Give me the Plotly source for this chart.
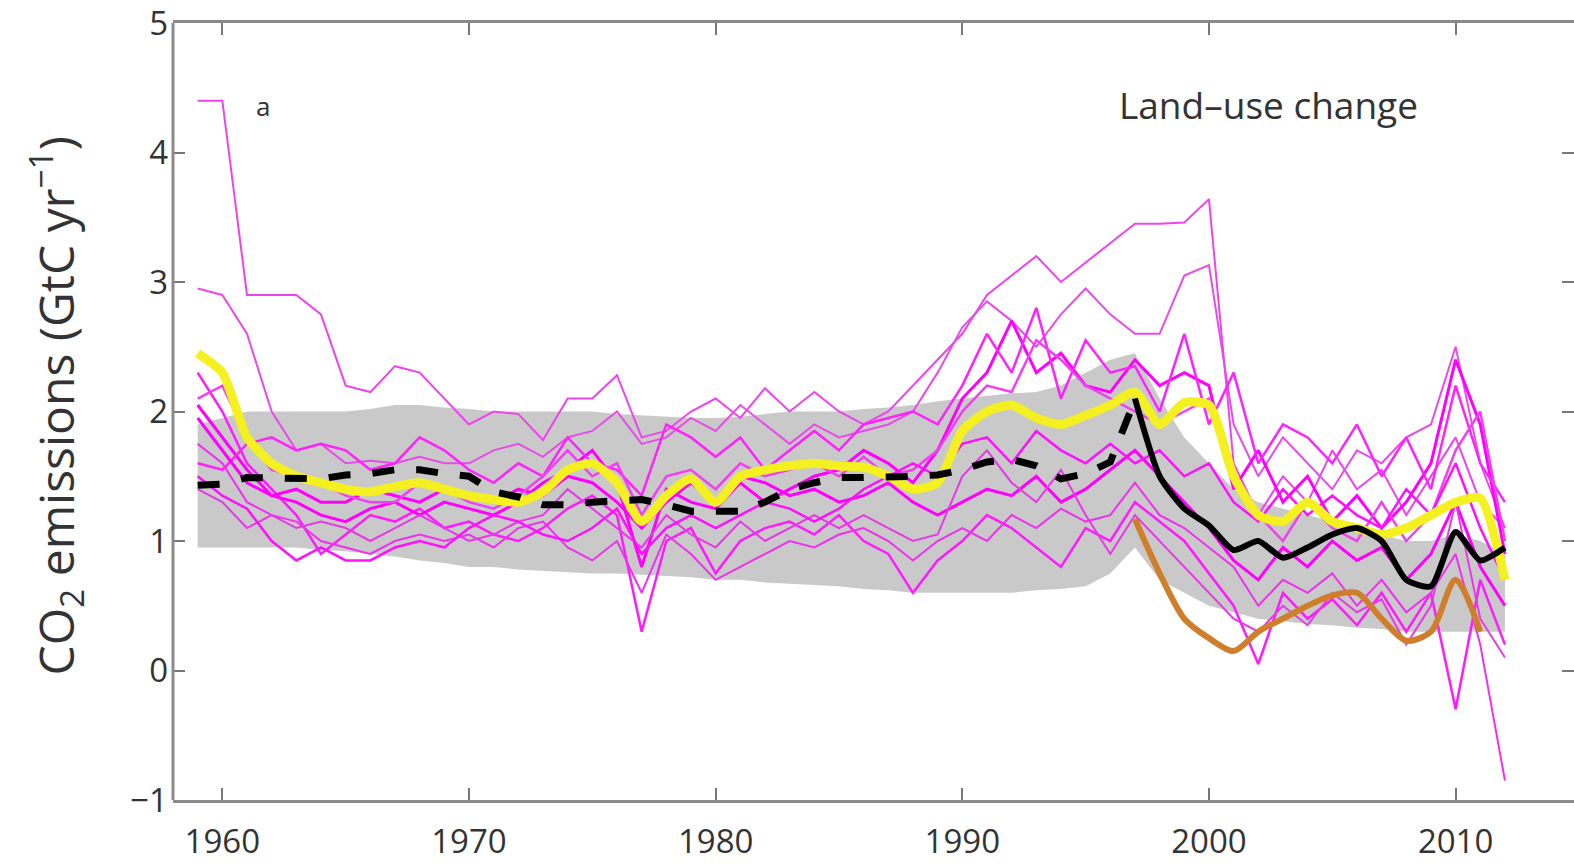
import plotly.graph_objects as go

# Annual land-use change CO2 emissions, 1959-2012 (GtC per year)
years = list(range(1959, 2013))

# Individual model estimates (magenta ensemble)
model_a = [4.4, 4.4, 2.9, 2.9, 2.9, 2.75, 2.2, 2.15, 2.35, 2.3, 2.1, 1.9, 2.0, 1.98, 1.78, 2.1, 2.1, 2.28,
           1.8, 1.85, 2.0, 2.1, 1.95, 2.18, 2.0, 2.15, 2.0, 1.9, 2.0, 2.2, 2.4, 2.6, 2.9, 3.05, 3.2, 3.0,
           3.15, 3.3, 3.45, 3.45, 3.46, 3.64, 1.6, 1.2, 1.5, 1.3, 1.7, 1.4, 1.55, 1.2, 1.5, 1.8, 1.3, 1.1]
model_b = [2.95, 2.9, 2.6, 2.0, 1.7, 1.75, 1.6, 1.62, 1.6, 1.65, 1.6, 1.6, 1.7, 1.75, 1.65, 1.8, 1.85, 2.0,
           1.75, 1.8, 1.95, 1.85, 2.05, 1.9, 1.75, 1.9, 1.8, 1.85, 1.9, 2.0, 2.3, 2.65, 2.85, 2.7, 2.5, 2.75,
           2.95, 2.75, 2.6, 2.6, 3.05, 3.13, 1.9, 1.5, 1.8, 1.6, 1.4, 1.7, 1.6, 1.8, 1.9, 2.5, 1.6, 1.1]
model_c = [2.3, 2.0, 1.6, 1.4, 1.2, 0.9, 1.05, 1.2, 1.15, 1.25, 1.1, 1.15, 1.05, 1.0, 1.1, 1.25, 1.35, 1.2,
           0.3, 1.0, 1.1, 0.75, 1.0, 1.1, 1.15, 1.05, 1.2, 1.0, 0.9, 0.6, 0.85, 1.0, 1.2, 1.1, 0.95, 0.8,
           1.1, 1.0, 1.3, 1.15, 1.0, 0.75, 0.5, 0.05, 0.6, 0.4, 0.55, 0.35, 0.6, 0.3, 0.6, -0.3, 0.7, 0.2]
model_d = [2.05, 1.8, 1.55, 1.35, 1.3, 1.2, 1.15, 1.25, 1.3, 1.2, 1.3, 1.25, 1.2, 1.3, 1.45, 1.55, 1.7, 1.45,
           0.8, 1.4, 1.3, 1.25, 1.45, 1.3, 1.4, 1.5, 1.55, 1.7, 1.6, 1.45, 1.7, 2.1, 2.3, 2.7, 2.3, 2.45,
           2.2, 2.15, 2.4, 2.2, 2.3, 2.2, 1.4, 1.7, 1.3, 1.5, 1.15, 1.35, 1.1, 1.3, 1.6, 2.4, 1.9, 0.9]
model_e = [1.75, 1.6, 1.3, 1.2, 1.15, 1.0, 0.95, 0.9, 1.0, 1.05, 1.0, 1.05, 0.95, 1.1, 1.15, 0.95, 0.85, 1.0,
           0.6, 1.05, 0.9, 0.7, 0.8, 0.9, 1.0, 0.95, 1.05, 1.1, 1.0, 0.85, 1.0, 1.1, 1.0, 1.2, 1.1, 1.25,
           1.15, 1.2, 1.45, 1.2, 1.1, 0.95, 0.8, 0.5, 0.7, 0.6, 0.75, 0.5, 0.7, 0.45, 0.6, 0.9, 0.2, -0.85]
model_f = [1.6, 1.55, 1.75, 1.8, 1.7, 1.75, 1.7, 1.55, 1.6, 1.8, 1.7, 1.55, 1.45, 1.6, 1.5, 1.8, 1.6, 1.55,
           1.35, 1.9, 1.8, 1.65, 1.8, 1.55, 1.7, 1.85, 1.7, 1.9, 1.95, 2.0, 1.9, 2.2, 2.6, 2.3, 2.8, 2.1,
           2.55, 2.3, 2.35, 2.0, 2.6, 1.9, 2.3, 1.6, 1.9, 1.8, 1.6, 1.9, 1.5, 1.8, 1.4, 2.2, 1.6, 1.3]
model_g = [1.95, 1.7, 1.45, 1.35, 1.4, 1.3, 1.3, 1.4, 1.35, 1.3, 1.4, 1.35, 1.3, 1.4, 1.35, 1.5, 1.45, 1.3,
           1.1, 1.3, 1.45, 1.3, 1.5, 1.45, 1.35, 1.4, 1.3, 1.35, 1.45, 1.3, 1.2, 1.3, 1.4, 1.35, 1.5, 1.3,
           1.4, 1.55, 1.7, 1.5, 1.3, 1.1, 0.85, 0.7, 0.95, 0.8, 1.0, 0.85, 0.95, 0.7, 0.9, 1.3, 0.8, 0.5]
model_h = [2.1, 2.2, 1.8, 1.55, 1.5, 1.45, 1.35, 1.3, 1.3, 1.45, 1.4, 1.3, 1.25, 1.35, 1.5, 1.7, 1.5, 1.6,
           1.2, 1.5, 1.55, 1.4, 1.6, 1.5, 1.55, 1.6, 1.5, 1.65, 1.5, 1.55, 1.7, 2.0, 2.2, 2.15, 2.55, 2.4,
           2.2, 2.1, 2.0, 1.9, 2.0, 2.1, 1.5, 1.2, 1.0, 1.3, 1.1, 1.0, 1.3, 1.0, 1.2, 1.7, 2.0, 1.0]
model_i = [1.4, 1.3, 1.1, 1.2, 1.1, 1.15, 1.1, 1.0, 1.1, 1.2, 1.1, 1.0, 1.05, 1.15, 1.2, 1.4, 1.25, 1.1,
           0.95, 1.2, 1.05, 0.95, 1.15, 1.0, 1.1, 1.2, 1.1, 1.2, 1.1, 1.0, 1.05, 1.5, 1.7, 1.45, 1.3, 1.55,
           1.2, 0.9, 1.2, 1.0, 0.8, 0.6, 0.4, 0.3, 0.5, 0.35, 0.6, 0.45, 0.55, 0.2, 0.5, 1.3, 0.4, 0.1]
model_j = [1.5, 1.35, 1.25, 1.0, 0.85, 0.95, 0.85, 0.85, 0.95, 1.0, 0.95, 1.1, 1.2, 1.15, 1.05, 1.0, 1.1, 1.25,
           0.9, 1.1, 1.2, 1.1, 1.2, 1.3, 1.25, 1.15, 1.25, 1.4, 1.5, 1.6, 1.5, 1.75, 1.8, 1.6, 1.85, 1.7,
           1.6, 1.75, 1.6, 1.7, 1.5, 1.6, 1.3, 1.15, 1.4, 1.2, 1.35, 1.2, 1.1, 1.4, 1.2, 1.6, 1.1, 0.7]
models = [model_a, model_b, model_c, model_d, model_e, model_f, model_g, model_h, model_i, model_j]
model_colors = ["#ee44ee", "#e84ce8", "#ff1aff", "#ff00ff", "#f030f0",
                "#ff22ff", "#ff00ff", "#f040f0", "#e838e8", "#ff10ff"]
model_widths = [2, 2, 2.5, 3, 2, 2.5, 3, 2.5, 2, 2.5]

# Uncertainty range
band_upper = [1.9, 1.95, 2.0, 2.0, 2.0, 2.0, 2.0, 2.02, 2.05, 2.05, 2.03, 2.02, 2.0, 2.0, 2.0, 2.0, 2.0, 1.98,
              1.97, 1.96, 1.95, 1.95, 1.96, 1.98, 2.0, 2.0, 2.0, 2.02, 2.03, 2.05, 2.08, 2.1, 2.12, 2.14, 2.15,
              2.2, 2.3, 2.4, 2.45, 2.1, 1.8, 1.6, 1.4, 1.3, 1.25, 1.2, 1.15, 1.1, 1.05, 1.0, 1.0, 1.05, 1.0, 0.9]
band_lower = [0.95, 0.95, 0.95, 0.95, 0.95, 0.93, 0.92, 0.9, 0.88, 0.85, 0.83, 0.8, 0.8, 0.78, 0.77, 0.76, 0.75,
              0.75, 0.74, 0.73, 0.72, 0.7, 0.7, 0.68, 0.67, 0.66, 0.65, 0.63, 0.62, 0.6, 0.6, 0.6, 0.6, 0.6,
              0.62, 0.63, 0.65, 0.75, 0.95, 0.7, 0.6, 0.5, 0.45, 0.4, 0.38, 0.36, 0.35, 0.33, 0.32, 0.3, 0.3,
              0.3, 0.3, 0.3]

# Bookkeeping estimate (yellow)
bookkeeping = [2.45, 2.3, 1.8, 1.6, 1.5, 1.45, 1.4, 1.38, 1.42, 1.45, 1.4, 1.35, 1.32, 1.3, 1.38, 1.55, 1.6, 1.45,
               1.15, 1.35, 1.48, 1.3, 1.5, 1.55, 1.58, 1.6, 1.58, 1.57, 1.5, 1.4, 1.45, 1.85, 2.0, 2.05, 1.95,
               1.9, 1.97, 2.05, 2.15, 1.9, 2.07, 2.05, 1.5, 1.2, 1.15, 1.3, 1.15, 1.1, 1.05, 1.1, 1.2, 1.3, 1.33, 0.7]

# Mean estimate, 1959-1997 (dashed black)
mean_years = list(range(1959, 1998))
mean_early = [1.43, 1.44, 1.49, 1.49, 1.48, 1.48, 1.51, 1.52, 1.55, 1.55, 1.52, 1.5, 1.38, 1.34, 1.28, 1.28,
              1.3, 1.31, 1.32, 1.28, 1.23, 1.23, 1.23, 1.3, 1.4, 1.45, 1.49, 1.49, 1.49, 1.5, 1.51, 1.55, 1.61,
              1.63, 1.58, 1.48, 1.52, 1.61, 2.09]

# Satellite-era estimates, 1997-2012 (solid black) and 1997-2011 (orange)
recent_years = list(range(1997, 2013))
mean_recent = [2.1, 1.5, 1.25, 1.12, 0.93, 1.0, 0.87, 0.95, 1.05, 1.1, 1.0, 0.7, 0.65, 1.07, 0.85, 0.95]
fire_years = list(range(1997, 2012))
fire_based = [1.17, 0.75, 0.4, 0.25, 0.15, 0.3, 0.4, 0.5, 0.58, 0.6, 0.4, 0.23, 0.3, 0.7, 0.3]

fig = go.Figure()

fig.add_trace(go.Scatter(x=years, y=band_lower, mode="lines", line=dict(width=0, color="#c6c6c6"),
                         showlegend=False, hoverinfo="skip"))
fig.add_trace(go.Scatter(x=years, y=band_upper, mode="lines", line=dict(width=0, color="#c6c6c6"),
                         fill="tonexty", fillcolor="#c9c9c9", showlegend=False, hoverinfo="skip"))

for vals, col, w in zip(models, model_colors, model_widths):
    fig.add_trace(go.Scatter(x=years, y=vals, mode="lines", line=dict(color=col, width=w),
                             showlegend=False))

fig.add_trace(go.Scatter(x=years, y=bookkeeping, mode="lines",
                         line=dict(color="#f5f020", width=9, shape="spline", smoothing=0.6),
                         showlegend=False))
fig.add_trace(go.Scatter(x=mean_years, y=mean_early, mode="lines",
                         line=dict(color="black", width=7, dash="22px,22px"), showlegend=False))
fig.add_trace(go.Scatter(x=fire_years, y=fire_based, mode="lines",
                         line=dict(color="#cf7f2c", width=6, shape="spline", smoothing=0.8),
                         showlegend=False))
fig.add_trace(go.Scatter(x=recent_years, y=mean_recent, mode="lines",
                         line=dict(color="black", width=6, shape="spline", smoothing=0.6),
                         showlegend=False))

tick_font = dict(family="Open Sans, sans-serif", size=33, color="#333333")
axis_grey = "#8a8a8a"

fig.update_layout(
    width=1574, height=864,
    margin=dict(l=173, r=0, t=20, b=64),
    paper_bgcolor="white", plot_bgcolor="white",
    font=tick_font,
    xaxis=dict(range=[1958.0, 2014.8], tickvals=[1960, 1970, 1980, 1990, 2000, 2010],
               ticks="inside", ticklen=12, tickwidth=2, tickcolor="#777777",
               showline=True, linecolor=axis_grey, linewidth=3, mirror="ticks",
               showgrid=False, zeroline=False, tickfont=tick_font, ticklabelstandoff=10,
               ticklabeloverflow="allow"),
    yaxis=dict(range=[-1, 5], tickvals=[-1, 0, 1, 2, 3, 4, 5],
               ticktext=["\u22121", "0", "1", "2", "3", "4", "5"],
               ticks="inside", ticklen=12, tickwidth=2, tickcolor="#777777",
               showline=False, mirror="ticks",
               showgrid=False, zeroline=False, tickfont=tick_font, ticklabelstandoff=4,
               ticklabeloverflow="allow"),
    shapes=[
        # left frame edge (the right edge falls outside the page)
        dict(type="line", xref="paper", yref="paper", x0=0, x1=0, y0=0, y1=1,
             line=dict(color=axis_grey, width=3)),
    ],
    annotations=[
        dict(text="CO<sub>2</sub> emissions (GtC yr<sup>\u22121</sup>)", textangle=-90,
             xref="paper", yref="paper", x=(55 - 173) / 1401, y=(800 - 405) / 780,
             xanchor="center", yanchor="middle", showarrow=False,
             font=dict(family="Open Sans, sans-serif", size=48, color="#333333")),
        dict(text="Land\u2013use change", xref="paper", yref="paper",
             x=(1268 - 173) / 1401, y=(800 - 102) / 780, xanchor="center", yanchor="middle",
             showarrow=False,
             font=dict(family="Open Sans, sans-serif", size=37, color="#333333")),
        dict(text="a", xref="paper", yref="paper",
             x=(263 - 173) / 1401, y=(800 - 103) / 780, xanchor="center", yanchor="middle",
             showarrow=False,
             font=dict(family="Open Sans, sans-serif", size=26, color="#333333")),
    ],
)

fig.write_html("out.html")
